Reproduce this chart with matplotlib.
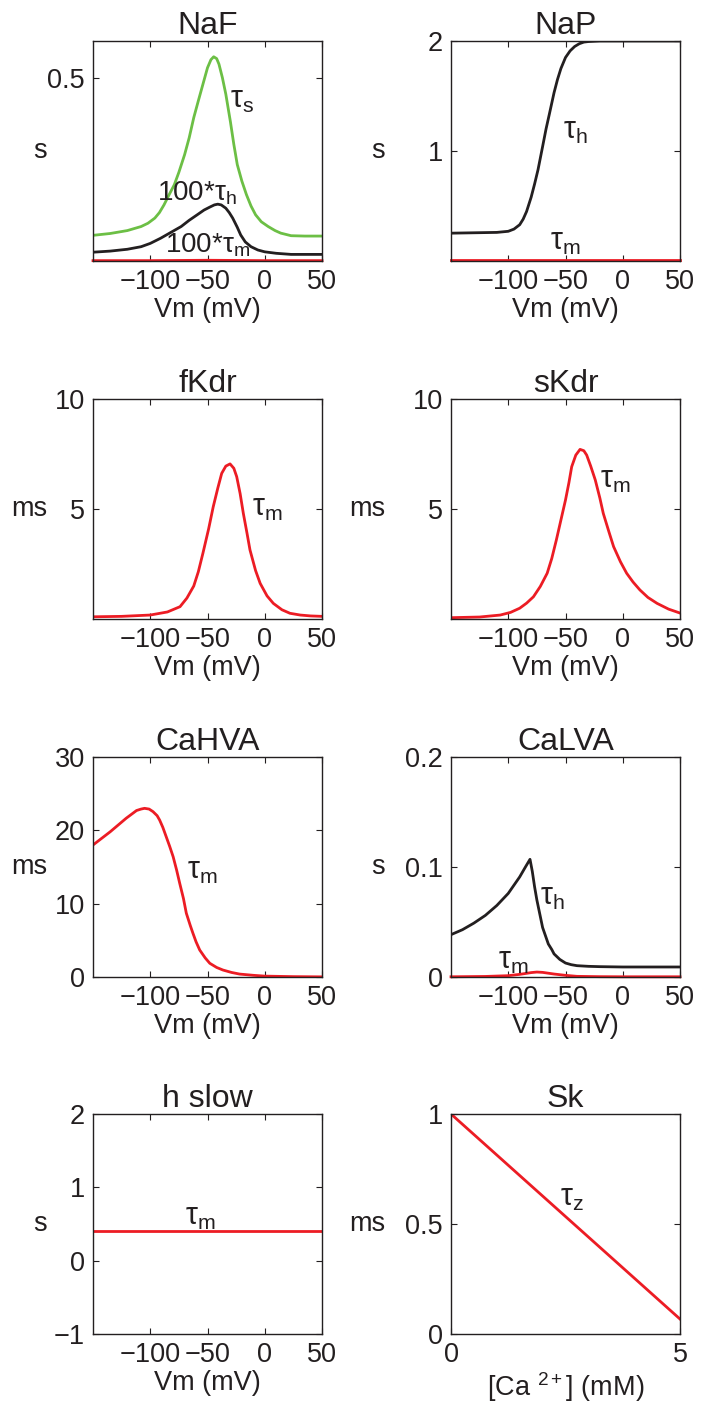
import matplotlib
matplotlib.use("Agg")
import matplotlib.pyplot as plt

plt.rcParams['font.family'] = ['Liberation Sans', 'DejaVu Sans']
plt.rcParams['mathtext.fontset'] = 'custom'
plt.rcParams['mathtext.rm'] = 'Liberation Sans'
plt.rcParams['mathtext.it'] = 'Liberation Sans'

RED = '#ec1c24'
GREEN = '#6cbf45'
BLACK = '#231f20'

# NaF (s)
naf_v_s = [-150, -135, -120, -108, -102, -96, -92, -88, -84, -79, -75, -70, -66, -62, -58, -54, -50, -47, -44.6, -42, -40, -37, -34, -30, -27, -24, -20, -16, -12, -8, -3, 3, 9, 14, 23, 35, 50]
naf_tau_s = [0.070, 0.075, 0.083, 0.094, 0.103, 0.117, 0.132, 0.153, 0.178, 0.208, 0.242, 0.290, 0.336, 0.391, 0.437, 0.482, 0.527, 0.549, 0.557, 0.552, 0.537, 0.50, 0.455, 0.380, 0.318, 0.263, 0.218, 0.181, 0.150, 0.126, 0.107, 0.094, 0.083, 0.076, 0.069, 0.068, 0.068]
naf_v_h = [-150, -135, -120, -108, -100, -91, -82, -73, -66, -59, -53, -48, -44, -41, -38, -34, -31, -28, -24, -21, -17, -12, -6, 0, 10, 23, 50]
naf_tau_h100 = [0.024, 0.027, 0.032, 0.039, 0.048, 0.062, 0.078, 0.094, 0.111, 0.126, 0.139, 0.147, 0.153, 0.155, 0.153, 0.144, 0.132, 0.117, 0.092, 0.071, 0.052, 0.039, 0.030, 0.025, 0.021, 0.018, 0.018]
naf_v_m = [-150, -100, -50, 0, 50]
naf_tau_m100 = [0.001, 0.001, 0.002, 0.001, 0.001]

# NaP (s)
nap_v_h = [-150, -110, -100, -95, -90, -87, -84, -80, -77, -74, -70, -67, -64, -60, -57, -54, -50, -46, -42, -38, -34, -30, -20, 50]
nap_tau_h = [0.253, 0.26, 0.27, 0.29, 0.33, 0.38, 0.45, 0.58, 0.70, 0.83, 1.04, 1.20, 1.34, 1.53, 1.65, 1.75, 1.85, 1.91, 1.95, 1.975, 1.99, 1.995, 2.0, 2.0]
nap_v_m = [-150, -50, 50]
nap_tau_m = [0.005, 0.005, 0.005]

# fKdr (ms)
fkdr_v = [-150, -125, -100, -85, -74, -68, -62, -58, -54, -49, -45, -41, -37.6, -34, -30.3, -27, -24.5, -21.5, -18.7, -15.5, -12.9, -8, -4, 2, 7.5, 15, 22, 31, 40, 50]
fkdr_tau_m = [0.10, 0.12, 0.18, 0.32, 0.56, 0.95, 1.5, 2.15, 2.99, 4.1, 5.1, 5.95, 6.62, 6.95, 7.05, 6.85, 6.47, 5.7, 4.8, 3.9, 3.14, 2.2, 1.62, 1.05, 0.71, 0.42, 0.26, 0.18, 0.14, 0.12]

# sKdr (ms)
skdr_v = [-150, -125, -107, -98, -90, -84, -78, -72, -66, -62, -58, -54, -50, -47, -44.6, -41, -37.3, -34, -31.5, -28, -24, -20, -17, -12, -8, -2, 3.4, 9, 15, 22, 30, 40, 50]
skdr_tau_m = [0.06, 0.09, 0.18, 0.30, 0.49, 0.72, 1.01, 1.48, 2.08, 2.75, 3.59, 4.5, 5.41, 6.2, 6.92, 7.45, 7.71, 7.65, 7.45, 6.95, 6.32, 5.5, 4.8, 3.95, 3.29, 2.6, 2.08, 1.68, 1.32, 0.98, 0.71, 0.45, 0.27]

# CaHVA (ms)
cahva_v = [-150, -135, -121, -112, -108, -105, -101, -97.6, -94, -91.8, -89, -86, -83, -80, -77, -74.3, -71, -68.5, -65, -62.7, -60, -56.8, -52, -48, -42, -36.5, -29, -22, -10, 0, 25, 50]
cahva_tau_m = [18.0, 19.8, 21.65, 22.7, 22.9, 23.0, 22.9, 22.55, 22.0, 21.4, 20.4, 19.1, 17.8, 16.4, 14.6, 12.8, 10.7, 8.7, 7.0, 5.96, 4.8, 3.68, 2.6, 1.87, 1.3, 0.95, 0.62, 0.4, 0.23, 0.12, 0.05, 0.02]

# CaLVA (s)
calva_v_h = [-150, -140, -130, -120, -110, -100, -90, -85, -81, -79, -77, -75, -72, -70, -67, -65, -62, -60, -55, -50, -45, -40, -30, -20, 0, 50]
calva_tau_h = [0.0385, 0.043, 0.049, 0.056, 0.065, 0.076, 0.091, 0.100, 0.107, 0.096, 0.082, 0.070, 0.055, 0.045, 0.036, 0.030, 0.025, 0.021, 0.016, 0.0127, 0.0112, 0.0103, 0.0097, 0.0094, 0.0091, 0.0091]
calva_v_m = [-150, -120, -100, -90, -80, -75, -70, -60, -50, -40, -20, 0, 50]
calva_tau_m = [0.0002, 0.0005, 0.0012, 0.0024, 0.0040, 0.0045, 0.0042, 0.0027, 0.0015, 0.0006, 0.0003, 0.0002, 0.0002]

# h slow (s)
hslow_v = [-150, 50]
hslow_tau_m = [0.4, 0.4]

# Sk (ms)
sk_ca = [0, 5]
sk_tau_z = [1.0, 0.068]

v_ticks = [-100, -50, 0, 50]

W, H = 721, 1405
fig = plt.figure(figsize=(W / 100, H / 100), dpi=100)


def make_ax(x0, top, w=229, h=220):
    ax = fig.add_axes([x0 / W, 1 - (top + h) / H, w / W, h / H])
    ax.tick_params(direction='in', top=True, right=True, length=4, width=0.8,
                   labelsize=19.5, pad=6, colors=BLACK)
    for sp in ax.spines.values():
        sp.set_color(BLACK)
        sp.set_linewidth(1.0)
    return ax


def finish(ax, title, ylab, col, xlab='Vm (mV)'):
    ax.set_title(title, fontsize=23, pad=5, color=BLACK)
    ax.set_xlabel(xlab, fontsize=19.5, labelpad=1, color=BLACK)
    ax.set_ylabel(ylab, fontsize=19.5, rotation=0, ha='right', va='center', color=BLACK)
    ax.yaxis.set_label_coords(-0.20 if col == 0 else -0.288, 0.5)


def tau(ax, x, y, s, sub, size=22):
    ax.text(x, y, s + r'$\mathregular{\tau_{' + sub + r'}}$', fontsize=size,
            ha='left', va='center', color=BLACK)


LX, RX = 93, 451
rows = [41, 399, 757, 1114]
lw = 2.0

# NaF
ax = make_ax(LX, rows[0])
ax.plot(naf_v_s, naf_tau_s, color=GREEN, lw=lw)
ax.plot(naf_v_h, naf_tau_h100, color=BLACK, lw=lw)
ax.plot(naf_v_m, naf_tau_m100, color=RED, lw=lw, clip_on=False)
ax.set_xlim(-150, 50)
ax.set_ylim(0, 0.6)
ax.set_xticks(v_ticks)
ax.set_yticks([0.5])
tau(ax, -30, 0.44, '', 's')
tau(ax, -94, 0.186, '100*', 'h', 20)
tau(ax, -87, 0.042, '100*', 'm', 20)
finish(ax, 'NaF', 's', 0)

# NaP
ax = make_ax(RX, rows[0])
ax.plot(nap_v_h, nap_tau_h, color=BLACK, lw=lw)
ax.plot(nap_v_m, nap_tau_m, color=RED, lw=lw, clip_on=False)
ax.set_xlim(-150, 50)
ax.set_ylim(0, 2)
ax.set_xticks(v_ticks)
ax.set_yticks([1, 2])
tau(ax, -52, 1.18, '', 'h')
tau(ax, -63.5, 0.17, '', 'm')
finish(ax, 'NaP', 's', 1)

# fKdr
ax = make_ax(LX, rows[1])
ax.plot(fkdr_v, fkdr_tau_m, color=RED, lw=lw)
ax.set_xlim(-150, 50)
ax.set_ylim(0, 10)
ax.set_xticks(v_ticks)
ax.set_yticks([5, 10])
tau(ax, -11, 5.05, '', 'm')
finish(ax, 'fKdr', 'ms', 0)

# sKdr
ax = make_ax(RX, rows[1])
ax.plot(skdr_v, skdr_tau_m, color=RED, lw=lw)
ax.set_xlim(-150, 50)
ax.set_ylim(0, 10)
ax.set_xticks(v_ticks)
ax.set_yticks([5, 10])
tau(ax, -20, 6.3, '', 'm')
finish(ax, 'sKdr', 'ms', 1)

# CaHVA
ax = make_ax(LX, rows[2])
ax.plot(cahva_v, cahva_tau_m, color=RED, lw=lw)
ax.set_xlim(-150, 50)
ax.set_ylim(0, 30)
ax.set_xticks(v_ticks)
ax.set_yticks([0, 10, 20, 30])
tau(ax, -68, 14.5, '', 'm')
finish(ax, 'CaHVA', 'ms', 0)

# CaLVA
ax = make_ax(RX, rows[2])
ax.plot(calva_v_h, calva_tau_h, color=BLACK, lw=lw)
ax.plot(calva_v_m, calva_tau_m, color=RED, lw=lw, clip_on=False)
ax.set_xlim(-150, 50)
ax.set_ylim(0, 0.2)
ax.set_xticks(v_ticks)
ax.set_yticks([0, 0.1, 0.2])
ax.set_yticklabels(['0', '0.1', '0.2'])
tau(ax, -72, 0.073, '', 'h')
tau(ax, -109, 0.0145, '', 'm')
finish(ax, 'CaLVA', 's', 1)

# h slow
ax = make_ax(LX, rows[3])
ax.plot(hslow_v, hslow_tau_m, color=RED, lw=lw)
ax.set_xlim(-150, 50)
ax.set_ylim(-1, 2)
ax.set_xticks(v_ticks)
ax.set_yticks([-1, 0, 1, 2])
tau(ax, -70, 0.595, '', 'm')
finish(ax, 'h slow', 's', 0)

# Sk
ax = make_ax(RX, rows[3])
ax.plot(sk_ca, sk_tau_z, color=RED, lw=lw)
ax.set_xlim(0, 5)
ax.set_ylim(0, 1)
ax.set_xticks([0, 5])
ax.set_yticks([0, 0.5, 1])
ax.set_yticklabels(['0', '0.5', '1'])
tau(ax, 2.38, 0.62, '', 'z')
finish(ax, 'Sk', 'ms', 1, xlab=r'[Ca $^{\mathregular{2+}}$] (mM)')

fig.savefig('out.png', dpi=100)
